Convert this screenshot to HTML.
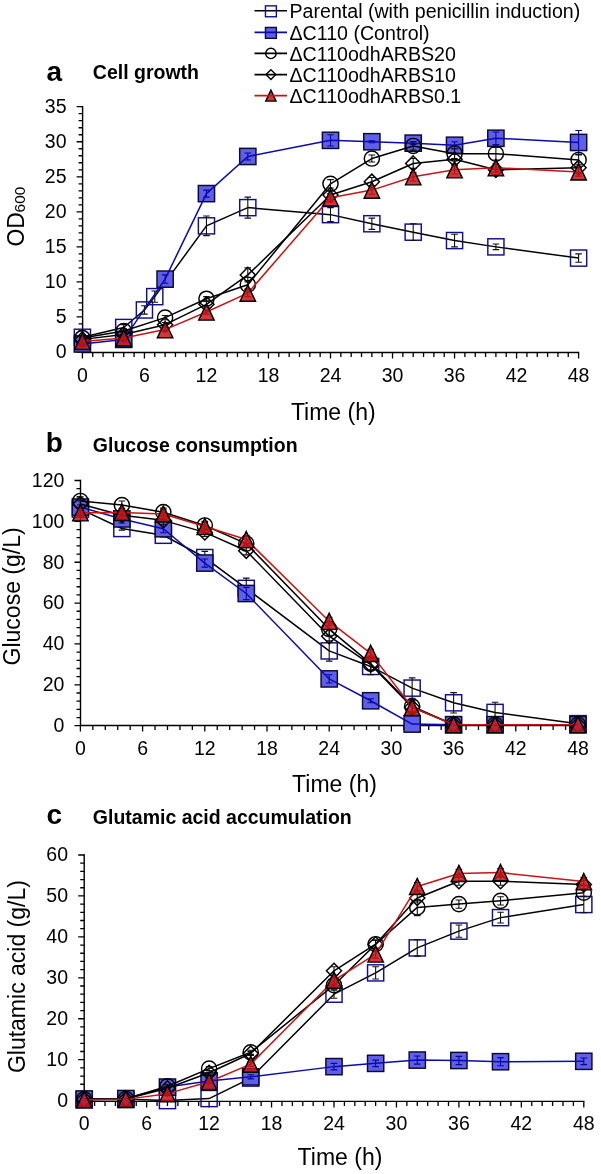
<!DOCTYPE html>
<html><head><meta charset="utf-8"><title>Figure</title>
<style>
html,body{margin:0;padding:0;background:#fff;}
body{width:601px;height:1174px;overflow:hidden;font-family:"Liberation Sans", sans-serif;}
svg{display:block;will-change:transform;}
</style></head><body>
<svg width="601" height="1174" viewBox="0 0 601 1174" font-family='"Liberation Sans", sans-serif' fill="#000">
<path d="M254.5 10.8H287" stroke="#000" stroke-width="1.6"/><rect x="265.45" y="5.85" width="10.9" height="10.9" fill="none" stroke="#10108c" stroke-width="1.4"/>
<text x="289.5" y="18" font-size="19.6" text-anchor="start" font-weight="normal" >Parental (with penicillin induction)</text>
<rect x="265.45" y="27.45" width="10.9" height="10.9" fill="#5f5feb" stroke="#0a0a30" stroke-width="1.4"/><path d="M254.5 32.4H287" stroke="#0a0ab0" stroke-width="1.6"/>
<text x="289.5" y="39.6" font-size="19.6" text-anchor="start" font-weight="normal" >ΔC110 (Control)</text>
<path d="M254.5 53.4H287" stroke="#000" stroke-width="1.6"/><circle cx="270.9" cy="53.4" r="5.2" fill="none" stroke="#000" stroke-width="1.4"/>
<text x="289.5" y="60.6" font-size="19.6" text-anchor="start" font-weight="normal" >ΔC110odhARBS20</text>
<path d="M254.5 74.6H287" stroke="#000" stroke-width="1.6"/><path d="M270.9 69.69L275.81 74.6L270.9 79.51L265.99 74.6Z" fill="none" stroke="#000" stroke-width="1.4"/>
<text x="289.5" y="81.8" font-size="19.6" text-anchor="start" font-weight="normal" >ΔC110odhARBS10</text>
<path d="M270.9 90.1L276.05 101.1L265.75 101.1Z" fill="#cd1419" fill-opacity="0.85" stroke="#000" stroke-width="1.4" stroke-linejoin="miter"/><path d="M254.5 95.6H287" stroke="#c81414" stroke-width="1.6"/>
<text x="289.5" y="102.8" font-size="19.6" text-anchor="start" font-weight="normal" >ΔC110odhARBS0.1</text>
<path d="M82.6 106V352.5H579.2" stroke="#000" stroke-width="1.4" fill="none"/>
<path d="M76.6 352H82.6M78.6 344.99H82.6M78.6 337.98H82.6M78.6 330.97H82.6M78.6 323.97H82.6M76.6 316.96H82.6M78.6 309.95H82.6M78.6 302.94H82.6M78.6 295.93H82.6M78.6 288.92H82.6M76.6 281.91H82.6M78.6 274.91H82.6M78.6 267.9H82.6M78.6 260.89H82.6M78.6 253.88H82.6M76.6 246.87H82.6M78.6 239.86H82.6M78.6 232.85H82.6M78.6 225.85H82.6M78.6 218.84H82.6M76.6 211.83H82.6M78.6 204.82H82.6M78.6 197.81H82.6M78.6 190.8H82.6M78.6 183.79H82.6M76.6 176.79H82.6M78.6 169.78H82.6M78.6 162.77H82.6M78.6 155.76H82.6M78.6 148.75H82.6M76.6 141.74H82.6M78.6 134.73H82.6M78.6 127.73H82.6M78.6 120.72H82.6M78.6 113.71H82.6M76.6 106.7H82.6M82.4 352.5V358.5M92.74 352.5V357M103.08 352.5V357M113.41 352.5V357M123.75 352.5V357M134.09 352.5V357M144.43 352.5V358.5M154.76 352.5V357M165.1 352.5V357M175.44 352.5V357M185.78 352.5V357M196.11 352.5V357M206.45 352.5V358.5M216.79 352.5V357M227.13 352.5V357M237.46 352.5V357M247.8 352.5V357M258.14 352.5V357M268.48 352.5V358.5M278.81 352.5V357M289.15 352.5V357M299.49 352.5V357M309.83 352.5V357M320.16 352.5V357M330.5 352.5V358.5M340.84 352.5V357M351.18 352.5V357M361.51 352.5V357M371.85 352.5V357M382.19 352.5V357M392.53 352.5V358.5M402.86 352.5V357M413.2 352.5V357M423.54 352.5V357M433.88 352.5V357M444.21 352.5V357M454.55 352.5V358.5M464.89 352.5V357M475.23 352.5V357M485.56 352.5V357M495.9 352.5V357M506.24 352.5V357M516.58 352.5V358.5M526.91 352.5V357M537.25 352.5V357M547.59 352.5V357M557.93 352.5V357M568.26 352.5V357M578.6 352.5V358.5" stroke="#000" stroke-width="1.3" fill="none"/>
<text x="66.5" y="358.4" font-size="19.5" text-anchor="end" font-weight="normal" >0</text>
<text x="66.5" y="323.36" font-size="19.5" text-anchor="end" font-weight="normal" >5</text>
<text x="66.5" y="288.31" font-size="19.5" text-anchor="end" font-weight="normal" >10</text>
<text x="66.5" y="253.27" font-size="19.5" text-anchor="end" font-weight="normal" >15</text>
<text x="66.5" y="218.23" font-size="19.5" text-anchor="end" font-weight="normal" >20</text>
<text x="66.5" y="183.19" font-size="19.5" text-anchor="end" font-weight="normal" >25</text>
<text x="66.5" y="148.14" font-size="19.5" text-anchor="end" font-weight="normal" >30</text>
<text x="66.5" y="113.1" font-size="19.5" text-anchor="end" font-weight="normal" >35</text>
<text x="82.4" y="382" font-size="19.5" text-anchor="middle" font-weight="normal" >0</text>
<text x="144.43" y="382" font-size="19.5" text-anchor="middle" font-weight="normal" >6</text>
<text x="206.45" y="382" font-size="19.5" text-anchor="middle" font-weight="normal" >12</text>
<text x="268.48" y="382" font-size="19.5" text-anchor="middle" font-weight="normal" >18</text>
<text x="330.5" y="382" font-size="19.5" text-anchor="middle" font-weight="normal" >24</text>
<text x="392.53" y="382" font-size="19.5" text-anchor="middle" font-weight="normal" >30</text>
<text x="454.55" y="382" font-size="19.5" text-anchor="middle" font-weight="normal" >36</text>
<text x="516.58" y="382" font-size="19.5" text-anchor="middle" font-weight="normal" >42</text>
<text x="578.6" y="382" font-size="19.5" text-anchor="middle" font-weight="normal" >48</text>
<text x="333.3" y="419.5" font-size="23" text-anchor="middle" font-weight="normal" >Time (h)</text>
<text transform="translate(24.4 246.6) rotate(-90)" font-size="23">OD<tspan font-size="15.5" dy="0.9" dx="-0.3">600</tspan></text>
<text x="46.6" y="81" font-size="28" text-anchor="start" font-weight="bold" >a</text>
<text x="92.8" y="78.7" font-size="19.5" text-anchor="start" font-weight="bold" >Cell growth</text>
<path d="M82.4 337.28L123.75 327.47L144.43 309.95L154.76 296.63L206.45 225.85L247.8 207.62L330.5 214.63L371.85 223.74L413.2 232.15L454.55 240.56L495.9 246.87L578.6 258.09" fill="none" stroke="#000" stroke-width="1.5" stroke-linejoin="round"/><rect x="74.33" y="329.21" width="16.15" height="16.15" fill="none" stroke="#10108c" stroke-width="1.45"/><rect x="115.67" y="319.4" width="16.15" height="16.15" fill="none" stroke="#10108c" stroke-width="1.45"/><rect x="136.35" y="301.87" width="16.15" height="16.15" fill="none" stroke="#10108c" stroke-width="1.45"/><rect x="146.69" y="288.56" width="16.15" height="16.15" fill="none" stroke="#10108c" stroke-width="1.45"/><rect x="198.38" y="217.77" width="16.15" height="16.15" fill="none" stroke="#10108c" stroke-width="1.45"/><rect x="239.72" y="199.55" width="16.15" height="16.15" fill="none" stroke="#10108c" stroke-width="1.45"/><rect x="322.43" y="206.56" width="16.15" height="16.15" fill="none" stroke="#10108c" stroke-width="1.45"/><rect x="363.78" y="215.67" width="16.15" height="16.15" fill="none" stroke="#10108c" stroke-width="1.45"/><rect x="405.13" y="224.08" width="16.15" height="16.15" fill="none" stroke="#10108c" stroke-width="1.45"/><rect x="446.48" y="232.49" width="16.15" height="16.15" fill="none" stroke="#10108c" stroke-width="1.45"/><rect x="487.82" y="238.8" width="16.15" height="16.15" fill="none" stroke="#10108c" stroke-width="1.45"/><rect x="570.53" y="250.01" width="16.15" height="16.15" fill="none" stroke="#10108c" stroke-width="1.45"/><path d="M82.4 335.18V339.38M79.1 335.18H85.7M79.1 339.38H85.7" stroke="#111" stroke-width="1.1" fill="none"/><path d="M123.75 324.67V330.27M120.45 324.67H127.05M120.45 330.27H127.05" stroke="#111" stroke-width="1.1" fill="none"/><path d="M144.43 305.74V314.15M141.12 305.74H147.73M141.12 314.15H147.73" stroke="#111" stroke-width="1.1" fill="none"/><path d="M154.76 291.03V302.24M151.46 291.03H158.06M151.46 302.24H158.06" stroke="#111" stroke-width="1.1" fill="none"/><path d="M206.45 216.03V235.66M203.15 216.03H209.75M203.15 235.66H209.75" stroke="#111" stroke-width="1.1" fill="none"/><path d="M247.8 197.11V218.14M244.5 197.11H251.1M244.5 218.14H251.1" stroke="#111" stroke-width="1.1" fill="none"/><path d="M330.5 207.62V221.64M327.2 207.62H333.8M327.2 221.64H333.8" stroke="#111" stroke-width="1.1" fill="none"/><path d="M371.85 218.14V229.35M368.55 218.14H375.15M368.55 229.35H375.15" stroke="#111" stroke-width="1.1" fill="none"/><path d="M413.2 223.74V240.56M409.9 223.74H416.5M409.9 240.56H416.5" stroke="#111" stroke-width="1.1" fill="none"/><path d="M454.55 234.26V246.87M451.25 234.26H457.85M451.25 246.87H457.85" stroke="#111" stroke-width="1.1" fill="none"/><path d="M495.9 244.07V249.67M492.6 244.07H499.2M492.6 249.67H499.2" stroke="#111" stroke-width="1.1" fill="none"/><path d="M578.6 253.88V262.29M575.3 253.88H581.9M575.3 262.29H581.9" stroke="#111" stroke-width="1.1" fill="none"/>
<rect x="74.28" y="335.82" width="16.25" height="16.25" fill="#5f5feb" stroke="#0a0a30" stroke-width="1.45"/><rect x="115.62" y="331.26" width="16.25" height="16.25" fill="#5f5feb" stroke="#0a0a30" stroke-width="1.45"/><rect x="156.98" y="270.99" width="16.25" height="16.25" fill="#5f5feb" stroke="#0a0a30" stroke-width="1.45"/><rect x="198.33" y="185.48" width="16.25" height="16.25" fill="#5f5feb" stroke="#0a0a30" stroke-width="1.45"/><rect x="239.68" y="148.34" width="16.25" height="16.25" fill="#5f5feb" stroke="#0a0a30" stroke-width="1.45"/><rect x="322.38" y="132.22" width="16.25" height="16.25" fill="#5f5feb" stroke="#0a0a30" stroke-width="1.45"/><rect x="363.73" y="133.62" width="16.25" height="16.25" fill="#5f5feb" stroke="#0a0a30" stroke-width="1.45"/><rect x="405.08" y="135.02" width="16.25" height="16.25" fill="#5f5feb" stroke="#0a0a30" stroke-width="1.45"/><rect x="446.43" y="137.12" width="16.25" height="16.25" fill="#5f5feb" stroke="#0a0a30" stroke-width="1.45"/><rect x="487.77" y="130.11" width="16.25" height="16.25" fill="#5f5feb" stroke="#0a0a30" stroke-width="1.45"/><rect x="570.48" y="134.32" width="16.25" height="16.25" fill="#5f5feb" stroke="#0a0a30" stroke-width="1.45"/><path d="M82.4 341.84V346.04M79.1 341.84H85.7M79.1 346.04H85.7" stroke="#0a0a8c" stroke-width="1.1" fill="none"/><path d="M123.75 337.28V341.49M120.45 337.28H127.05M120.45 341.49H127.05" stroke="#0a0a8c" stroke-width="1.1" fill="none"/><path d="M165.1 274.91V283.32M161.8 274.91H168.4M161.8 283.32H168.4" stroke="#0a0a8c" stroke-width="1.1" fill="none"/><path d="M206.45 190.1V197.11M203.15 190.1H209.75M203.15 197.11H209.75" stroke="#0a0a8c" stroke-width="1.1" fill="none"/><path d="M247.8 152.96V159.97M244.5 152.96H251.1M244.5 159.97H251.1" stroke="#0a0a8c" stroke-width="1.1" fill="none"/><path d="M330.5 134.73V145.95M327.2 134.73H333.8M327.2 145.95H333.8" stroke="#0a0a8c" stroke-width="1.1" fill="none"/><path d="M371.85 140.69V142.79M368.55 140.69H375.15M368.55 142.79H375.15" stroke="#0a0a8c" stroke-width="1.1" fill="none"/><path d="M413.2 141.74V144.55M409.9 141.74H416.5M409.9 144.55H416.5" stroke="#0a0a8c" stroke-width="1.1" fill="none"/><path d="M454.55 141.74V148.75M451.25 141.74H457.85M451.25 148.75H457.85" stroke="#0a0a8c" stroke-width="1.1" fill="none"/><path d="M495.9 131.93V144.55M492.6 131.93H499.2M492.6 144.55H499.2" stroke="#0a0a8c" stroke-width="1.1" fill="none"/><path d="M578.6 130.53V154.36M575.3 130.53H581.9M575.3 154.36H581.9" stroke="#0a0a8c" stroke-width="1.1" fill="none"/><path d="M82.4 343.94L123.75 339.38L165.1 279.11L206.45 193.61L247.8 156.46L330.5 140.34L371.85 141.74L413.2 143.14L454.55 145.25L495.9 138.24L578.6 142.44" fill="none" stroke="#0a0ab0" stroke-width="1.5" stroke-linejoin="round"/>
<path d="M82.4 337.98L123.75 330.97L165.1 317.66L206.45 298.73L247.8 284.72L330.5 183.79L371.85 158.56L413.2 145.95L454.55 153.66L495.9 153.66L578.6 159.97" fill="none" stroke="#000" stroke-width="1.5" stroke-linejoin="round"/><circle cx="82.4" cy="337.98" r="7.58" fill="none" stroke="#000" stroke-width="1.45"/><circle cx="123.75" cy="330.97" r="7.58" fill="none" stroke="#000" stroke-width="1.45"/><circle cx="165.1" cy="317.66" r="7.58" fill="none" stroke="#000" stroke-width="1.45"/><circle cx="206.45" cy="298.73" r="7.58" fill="none" stroke="#000" stroke-width="1.45"/><circle cx="247.8" cy="284.72" r="7.58" fill="none" stroke="#000" stroke-width="1.45"/><circle cx="330.5" cy="183.79" r="7.58" fill="none" stroke="#000" stroke-width="1.45"/><circle cx="371.85" cy="158.56" r="7.58" fill="none" stroke="#000" stroke-width="1.45"/><circle cx="413.2" cy="145.95" r="7.58" fill="none" stroke="#000" stroke-width="1.45"/><circle cx="454.55" cy="153.66" r="7.58" fill="none" stroke="#000" stroke-width="1.45"/><circle cx="495.9" cy="153.66" r="7.58" fill="none" stroke="#000" stroke-width="1.45"/><circle cx="578.6" cy="159.97" r="7.58" fill="none" stroke="#000" stroke-width="1.45"/><path d="M82.4 335.88V340.09M79.1 335.88H85.7M79.1 340.09H85.7" stroke="#111" stroke-width="1.1" fill="none"/><path d="M123.75 328.87V333.08M120.45 328.87H127.05M120.45 333.08H127.05" stroke="#111" stroke-width="1.1" fill="none"/><path d="M165.1 315.56V319.76M161.8 315.56H168.4M161.8 319.76H168.4" stroke="#111" stroke-width="1.1" fill="none"/><path d="M206.45 296.63V300.84M203.15 296.63H209.75M203.15 300.84H209.75" stroke="#111" stroke-width="1.1" fill="none"/><path d="M247.8 280.51V288.92M244.5 280.51H251.1M244.5 288.92H251.1" stroke="#111" stroke-width="1.1" fill="none"/><path d="M330.5 179.59V188M327.2 179.59H333.8M327.2 188H333.8" stroke="#111" stroke-width="1.1" fill="none"/><path d="M371.85 155.06V162.07M368.55 155.06H375.15M368.55 162.07H375.15" stroke="#111" stroke-width="1.1" fill="none"/><path d="M413.2 141.74V150.15M409.9 141.74H416.5M409.9 150.15H416.5" stroke="#111" stroke-width="1.1" fill="none"/><path d="M454.55 148.75V158.56M451.25 148.75H457.85M451.25 158.56H457.85" stroke="#111" stroke-width="1.1" fill="none"/><path d="M495.9 147.35V159.97M492.6 147.35H499.2M492.6 159.97H499.2" stroke="#111" stroke-width="1.1" fill="none"/><path d="M578.6 155.06V164.87M575.3 155.06H581.9M575.3 164.87H581.9" stroke="#111" stroke-width="1.1" fill="none"/>
<path d="M82.4 339.38L123.75 334.48L165.1 324.67L206.45 304.34L247.8 274.91L330.5 195.01L371.85 181.69L413.2 163.47L454.55 159.26L495.9 169.78L578.6 167.67" fill="none" stroke="#000" stroke-width="1.5" stroke-linejoin="round"/><path d="M82.4 331.81L89.97 339.38L82.4 346.96L74.83 339.38Z" fill="none" stroke="#000" stroke-width="1.45"/><path d="M123.75 326.9L131.32 334.48L123.75 342.05L116.18 334.48Z" fill="none" stroke="#000" stroke-width="1.45"/><path d="M165.1 317.09L172.67 324.67L165.1 332.24L157.53 324.67Z" fill="none" stroke="#000" stroke-width="1.45"/><path d="M206.45 296.77L214.02 304.34L206.45 311.92L198.88 304.34Z" fill="none" stroke="#000" stroke-width="1.45"/><path d="M247.8 267.33L255.37 274.91L247.8 282.48L240.23 274.91Z" fill="none" stroke="#000" stroke-width="1.45"/><path d="M330.5 187.43L338.07 195.01L330.5 202.58L322.93 195.01Z" fill="none" stroke="#000" stroke-width="1.45"/><path d="M371.85 174.12L379.42 181.69L371.85 189.27L364.28 181.69Z" fill="none" stroke="#000" stroke-width="1.45"/><path d="M413.2 155.89L420.77 163.47L413.2 171.04L405.63 163.47Z" fill="none" stroke="#000" stroke-width="1.45"/><path d="M454.55 151.69L462.12 159.26L454.55 166.84L446.98 159.26Z" fill="none" stroke="#000" stroke-width="1.45"/><path d="M495.9 162.2L503.47 169.78L495.9 177.35L488.33 169.78Z" fill="none" stroke="#000" stroke-width="1.45"/><path d="M578.6 160.1L586.17 167.67L578.6 175.25L571.03 167.67Z" fill="none" stroke="#000" stroke-width="1.45"/><path d="M82.4 337.28V341.49M79.1 337.28H85.7M79.1 341.49H85.7" stroke="#111" stroke-width="1.1" fill="none"/><path d="M123.75 332.38V336.58M120.45 332.38H127.05M120.45 336.58H127.05" stroke="#111" stroke-width="1.1" fill="none"/><path d="M165.1 322.56V326.77M161.8 322.56H168.4M161.8 326.77H168.4" stroke="#111" stroke-width="1.1" fill="none"/><path d="M206.45 301.54V307.15M203.15 301.54H209.75M203.15 307.15H209.75" stroke="#111" stroke-width="1.1" fill="none"/><path d="M247.8 267.9V281.91M244.5 267.9H251.1M244.5 281.91H251.1" stroke="#111" stroke-width="1.1" fill="none"/><path d="M330.5 190.8V199.21M327.2 190.8H333.8M327.2 199.21H333.8" stroke="#111" stroke-width="1.1" fill="none"/><path d="M371.85 177.49V185.9M368.55 177.49H375.15M368.55 185.9H375.15" stroke="#111" stroke-width="1.1" fill="none"/><path d="M413.2 158.56V168.38M409.9 158.56H416.5M409.9 168.38H416.5" stroke="#111" stroke-width="1.1" fill="none"/><path d="M454.55 154.36V164.17M451.25 154.36H457.85M451.25 164.17H457.85" stroke="#111" stroke-width="1.1" fill="none"/><path d="M495.9 164.87V174.68M492.6 164.87H499.2M492.6 174.68H499.2" stroke="#111" stroke-width="1.1" fill="none"/><path d="M578.6 162.77V172.58M575.3 162.77H581.9M575.3 172.58H581.9" stroke="#111" stroke-width="1.1" fill="none"/>
<path d="M82.4 341.49L123.75 337.98L165.1 329.57L206.45 312.05L247.8 293.13L330.5 197.81L371.85 190.1L413.2 176.79L454.55 169.78L495.9 167.67L578.6 171.88" fill="none" stroke="#c81414" stroke-width="1.5" stroke-linejoin="round"/><path d="M82.4 339.38V343.59M79.1 339.38H85.7M79.1 343.59H85.7" stroke="#111" stroke-width="1.1" fill="none"/><path d="M123.75 335.88V340.09M120.45 335.88H127.05M120.45 340.09H127.05" stroke="#111" stroke-width="1.1" fill="none"/><path d="M165.1 327.47V331.68M161.8 327.47H168.4M161.8 331.68H168.4" stroke="#111" stroke-width="1.1" fill="none"/><path d="M206.45 309.95V314.15M203.15 309.95H209.75M203.15 314.15H209.75" stroke="#111" stroke-width="1.1" fill="none"/><path d="M247.8 289.62V296.63M244.5 289.62H251.1M244.5 296.63H251.1" stroke="#111" stroke-width="1.1" fill="none"/><path d="M330.5 193.61V202.02M327.2 193.61H333.8M327.2 202.02H333.8" stroke="#111" stroke-width="1.1" fill="none"/><path d="M371.85 185.9V194.31M368.55 185.9H375.15M368.55 194.31H375.15" stroke="#111" stroke-width="1.1" fill="none"/><path d="M413.2 172.58V180.99M409.9 172.58H416.5M409.9 180.99H416.5" stroke="#111" stroke-width="1.1" fill="none"/><path d="M454.55 165.57V173.98M451.25 165.57H457.85M451.25 173.98H457.85" stroke="#111" stroke-width="1.1" fill="none"/><path d="M495.9 163.47V171.88M492.6 163.47H499.2M492.6 171.88H499.2" stroke="#111" stroke-width="1.1" fill="none"/><path d="M578.6 167.67V176.08M575.3 167.67H581.9M575.3 176.08H581.9" stroke="#111" stroke-width="1.1" fill="none"/><path d="M82.4 333.41L90.11 349.56L74.69 349.56Z" fill="#cd1419" fill-opacity="0.85" stroke="#000" stroke-width="1.45" stroke-linejoin="miter"/><path d="M123.75 329.91L131.46 346.06L116.04 346.06Z" fill="#cd1419" fill-opacity="0.85" stroke="#000" stroke-width="1.45" stroke-linejoin="miter"/><path d="M165.1 321.5L172.81 337.65L157.39 337.65Z" fill="#cd1419" fill-opacity="0.85" stroke="#000" stroke-width="1.45" stroke-linejoin="miter"/><path d="M206.45 303.98L214.16 320.13L198.74 320.13Z" fill="#cd1419" fill-opacity="0.85" stroke="#000" stroke-width="1.45" stroke-linejoin="miter"/><path d="M247.8 285.05L255.51 301.2L240.09 301.2Z" fill="#cd1419" fill-opacity="0.85" stroke="#000" stroke-width="1.45" stroke-linejoin="miter"/><path d="M330.5 189.74L338.21 205.89L322.79 205.89Z" fill="#cd1419" fill-opacity="0.85" stroke="#000" stroke-width="1.45" stroke-linejoin="miter"/><path d="M371.85 182.03L379.56 198.18L364.14 198.18Z" fill="#cd1419" fill-opacity="0.85" stroke="#000" stroke-width="1.45" stroke-linejoin="miter"/><path d="M413.2 168.71L420.91 184.86L405.49 184.86Z" fill="#cd1419" fill-opacity="0.85" stroke="#000" stroke-width="1.45" stroke-linejoin="miter"/><path d="M454.55 161.7L462.26 177.85L446.84 177.85Z" fill="#cd1419" fill-opacity="0.85" stroke="#000" stroke-width="1.45" stroke-linejoin="miter"/><path d="M495.9 159.6L503.61 175.75L488.19 175.75Z" fill="#cd1419" fill-opacity="0.85" stroke="#000" stroke-width="1.45" stroke-linejoin="miter"/><path d="M578.6 163.8L586.31 179.95L570.89 179.95Z" fill="#cd1419" fill-opacity="0.85" stroke="#000" stroke-width="1.45" stroke-linejoin="miter"/>
<path d="M80.5 479.8V725.5H578.6" stroke="#000" stroke-width="1.4" fill="none"/>
<path d="M74.5 725.7H80.5M76.5 717.53H80.5M76.5 709.35H80.5M76.5 701.18H80.5M76.5 693.01H80.5M74.5 684.83H80.5M76.5 676.66H80.5M76.5 668.49H80.5M76.5 660.31H80.5M76.5 652.14H80.5M74.5 643.97H80.5M76.5 635.79H80.5M76.5 627.62H80.5M76.5 619.45H80.5M76.5 611.27H80.5M74.5 603.1H80.5M76.5 594.93H80.5M76.5 586.75H80.5M76.5 578.58H80.5M76.5 570.41H80.5M74.5 562.23H80.5M76.5 554.06H80.5M76.5 545.89H80.5M76.5 537.71H80.5M76.5 529.54H80.5M74.5 521.37H80.5M76.5 513.19H80.5M76.5 505.02H80.5M76.5 496.85H80.5M76.5 488.67H80.5M74.5 480.5H80.5M80.4 725.5V731.5M92.84 725.5V730M105.28 725.5V730M117.72 725.5V730M130.16 725.5V730M142.6 725.5V731.5M155.04 725.5V730M167.48 725.5V730M179.92 725.5V730M192.36 725.5V730M204.8 725.5V731.5M217.24 725.5V730M229.68 725.5V730M242.12 725.5V730M254.56 725.5V730M267 725.5V731.5M279.44 725.5V730M291.88 725.5V730M304.32 725.5V730M316.76 725.5V730M329.2 725.5V731.5M341.64 725.5V730M354.08 725.5V730M366.52 725.5V730M378.96 725.5V730M391.4 725.5V731.5M403.84 725.5V730M416.28 725.5V730M428.72 725.5V730M441.16 725.5V730M453.6 725.5V731.5M466.04 725.5V730M478.48 725.5V730M490.92 725.5V730M503.36 725.5V730M515.8 725.5V731.5M528.24 725.5V730M540.68 725.5V730M553.12 725.5V730M565.56 725.5V730M578 725.5V731.5" stroke="#000" stroke-width="1.3" fill="none"/>
<text x="64.4" y="732" font-size="19.5" text-anchor="end" font-weight="normal" >0</text>
<text x="64.4" y="691.13" font-size="19.5" text-anchor="end" font-weight="normal" >20</text>
<text x="64.4" y="650.27" font-size="19.5" text-anchor="end" font-weight="normal" >40</text>
<text x="64.4" y="609.4" font-size="19.5" text-anchor="end" font-weight="normal" >60</text>
<text x="64.4" y="568.53" font-size="19.5" text-anchor="end" font-weight="normal" >80</text>
<text x="64.4" y="527.67" font-size="19.5" text-anchor="end" font-weight="normal" >100</text>
<text x="64.4" y="486.8" font-size="19.5" text-anchor="end" font-weight="normal" >120</text>
<text x="80.4" y="755" font-size="19.5" text-anchor="middle" font-weight="normal" >0</text>
<text x="142.6" y="755" font-size="19.5" text-anchor="middle" font-weight="normal" >6</text>
<text x="204.8" y="755" font-size="19.5" text-anchor="middle" font-weight="normal" >12</text>
<text x="267" y="755" font-size="19.5" text-anchor="middle" font-weight="normal" >18</text>
<text x="329.2" y="755" font-size="19.5" text-anchor="middle" font-weight="normal" >24</text>
<text x="391.4" y="755" font-size="19.5" text-anchor="middle" font-weight="normal" >30</text>
<text x="453.6" y="755" font-size="19.5" text-anchor="middle" font-weight="normal" >36</text>
<text x="515.8" y="755" font-size="19.5" text-anchor="middle" font-weight="normal" >42</text>
<text x="578" y="755" font-size="19.5" text-anchor="middle" font-weight="normal" >48</text>
<text x="334.5" y="792.1" font-size="23" text-anchor="middle" font-weight="normal" >Time (h)</text>
<text transform="translate(19.5 596.4) rotate(-90)" font-size="23" text-anchor="middle">Glucose (g/L)</text>
<text x="45.8" y="452.3" font-size="28" text-anchor="start" font-weight="bold" >b</text>
<text x="92.8" y="452.3" font-size="19.5" text-anchor="start" font-weight="bold" >Glucose consumption</text>
<path d="M80.4 509.11L121.87 528.52L163.33 535.26L204.8 557.53L246.27 588.39L329.2 650.91L370.67 666.44L412.13 688.1L453.6 702.81L495.07 712.42L578 723.66" fill="none" stroke="#000" stroke-width="1.5" stroke-linejoin="round"/><rect x="72.33" y="501.03" width="16.15" height="16.15" fill="none" stroke="#10108c" stroke-width="1.45"/><rect x="113.79" y="520.44" width="16.15" height="16.15" fill="none" stroke="#10108c" stroke-width="1.45"/><rect x="155.26" y="527.19" width="16.15" height="16.15" fill="none" stroke="#10108c" stroke-width="1.45"/><rect x="196.72" y="549.46" width="16.15" height="16.15" fill="none" stroke="#10108c" stroke-width="1.45"/><rect x="238.19" y="580.31" width="16.15" height="16.15" fill="none" stroke="#10108c" stroke-width="1.45"/><rect x="321.13" y="642.84" width="16.15" height="16.15" fill="none" stroke="#10108c" stroke-width="1.45"/><rect x="362.59" y="658.37" width="16.15" height="16.15" fill="none" stroke="#10108c" stroke-width="1.45"/><rect x="404.06" y="680.03" width="16.15" height="16.15" fill="none" stroke="#10108c" stroke-width="1.45"/><rect x="445.53" y="694.74" width="16.15" height="16.15" fill="none" stroke="#10108c" stroke-width="1.45"/><rect x="486.99" y="704.34" width="16.15" height="16.15" fill="none" stroke="#10108c" stroke-width="1.45"/><rect x="569.93" y="715.58" width="16.15" height="16.15" fill="none" stroke="#10108c" stroke-width="1.45"/><path d="M80.4 502.98V515.24M77.1 502.98H83.7M77.1 515.24H83.7" stroke="#111" stroke-width="1.1" fill="none"/><path d="M121.87 526.88V530.15M118.57 526.88H125.17M118.57 530.15H125.17" stroke="#111" stroke-width="1.1" fill="none"/><path d="M163.33 533.63V536.9M160.03 533.63H166.63M160.03 536.9H166.63" stroke="#111" stroke-width="1.1" fill="none"/><path d="M204.8 551.4V563.66M201.5 551.4H208.1M201.5 563.66H208.1" stroke="#111" stroke-width="1.1" fill="none"/><path d="M246.27 578.17V598.6M242.97 578.17H249.57M242.97 598.6H249.57" stroke="#111" stroke-width="1.1" fill="none"/><path d="M329.2 640.7V661.13M325.9 640.7H332.5M325.9 661.13H332.5" stroke="#111" stroke-width="1.1" fill="none"/><path d="M370.67 658.27V674.62M367.37 658.27H373.97M367.37 674.62H373.97" stroke="#111" stroke-width="1.1" fill="none"/><path d="M412.13 677.89V698.32M408.83 677.89H415.43M408.83 698.32H415.43" stroke="#111" stroke-width="1.1" fill="none"/><path d="M453.6 692.6V713.03M450.3 692.6H456.9M450.3 713.03H456.9" stroke="#111" stroke-width="1.1" fill="none"/><path d="M495.07 702.2V722.63M491.77 702.2H498.37M491.77 722.63H498.37" stroke="#111" stroke-width="1.1" fill="none"/>
<rect x="72.28" y="498.94" width="16.25" height="16.25" fill="#5f5feb" stroke="#0a0a30" stroke-width="1.45"/><rect x="113.74" y="510.79" width="16.25" height="16.25" fill="#5f5feb" stroke="#0a0a30" stroke-width="1.45"/><rect x="155.21" y="520.6" width="16.25" height="16.25" fill="#5f5feb" stroke="#0a0a30" stroke-width="1.45"/><rect x="196.68" y="554.93" width="16.25" height="16.25" fill="#5f5feb" stroke="#0a0a30" stroke-width="1.45"/><rect x="238.14" y="585.37" width="16.25" height="16.25" fill="#5f5feb" stroke="#0a0a30" stroke-width="1.45"/><rect x="321.08" y="670.78" width="16.25" height="16.25" fill="#5f5feb" stroke="#0a0a30" stroke-width="1.45"/><rect x="362.54" y="692.65" width="16.25" height="16.25" fill="#5f5feb" stroke="#0a0a30" stroke-width="1.45"/><rect x="404.01" y="715.94" width="16.25" height="16.25" fill="#5f5feb" stroke="#0a0a30" stroke-width="1.45"/><rect x="445.48" y="716.55" width="16.25" height="16.25" fill="#5f5feb" stroke="#0a0a30" stroke-width="1.45"/><rect x="486.94" y="716.55" width="16.25" height="16.25" fill="#5f5feb" stroke="#0a0a30" stroke-width="1.45"/><rect x="569.88" y="716.55" width="16.25" height="16.25" fill="#5f5feb" stroke="#0a0a30" stroke-width="1.45"/><path d="M80.4 500.93V513.19M77.1 500.93H83.7M77.1 513.19H83.7" stroke="#0a0a8c" stroke-width="1.1" fill="none"/><path d="M121.87 514.83V523M118.57 514.83H125.17M118.57 523H125.17" stroke="#0a0a8c" stroke-width="1.1" fill="none"/><path d="M163.33 524.64V532.81M160.03 524.64H166.63M160.03 532.81H166.63" stroke="#0a0a8c" stroke-width="1.1" fill="none"/><path d="M204.8 558.96V567.14M201.5 558.96H208.1M201.5 567.14H208.1" stroke="#0a0a8c" stroke-width="1.1" fill="none"/><path d="M246.27 587.37V599.63M242.97 587.37H249.57M242.97 599.63H249.57" stroke="#0a0a8c" stroke-width="1.1" fill="none"/><path d="M329.2 674.82V682.99M325.9 674.82H332.5M325.9 682.99H332.5" stroke="#0a0a8c" stroke-width="1.1" fill="none"/><path d="M370.67 698.73V702.81M367.37 698.73H373.97M367.37 702.81H373.97" stroke="#0a0a8c" stroke-width="1.1" fill="none"/><path d="M80.4 507.06L121.87 518.91L163.33 528.72L204.8 563.05L246.27 593.5L329.2 678.91L370.67 700.77L412.13 724.07L453.6 724.68L495.07 724.68L578 724.68" fill="none" stroke="#0a0ab0" stroke-width="1.5" stroke-linejoin="round"/>
<path d="M80.4 500.93L121.87 505.02L163.33 512.17L204.8 525.45L246.27 543.64L329.2 629.05L370.67 663.58L412.13 706.29L453.6 724.68L495.07 724.68L578 724.68" fill="none" stroke="#000" stroke-width="1.5" stroke-linejoin="round"/><circle cx="80.4" cy="500.93" r="7.58" fill="none" stroke="#000" stroke-width="1.45"/><circle cx="121.87" cy="505.02" r="7.58" fill="none" stroke="#000" stroke-width="1.45"/><circle cx="163.33" cy="512.17" r="7.58" fill="none" stroke="#000" stroke-width="1.45"/><circle cx="204.8" cy="525.45" r="7.58" fill="none" stroke="#000" stroke-width="1.45"/><circle cx="246.27" cy="543.64" r="7.58" fill="none" stroke="#000" stroke-width="1.45"/><circle cx="329.2" cy="629.05" r="7.58" fill="none" stroke="#000" stroke-width="1.45"/><circle cx="370.67" cy="663.58" r="7.58" fill="none" stroke="#000" stroke-width="1.45"/><circle cx="412.13" cy="706.29" r="7.58" fill="none" stroke="#000" stroke-width="1.45"/><circle cx="453.6" cy="724.68" r="7.58" fill="none" stroke="#000" stroke-width="1.45"/><circle cx="495.07" cy="724.68" r="7.58" fill="none" stroke="#000" stroke-width="1.45"/><circle cx="578" cy="724.68" r="7.58" fill="none" stroke="#000" stroke-width="1.45"/><path d="M80.4 496.85V505.02M77.1 496.85H83.7M77.1 505.02H83.7" stroke="#111" stroke-width="1.1" fill="none"/><path d="M121.87 500.93V509.11M118.57 500.93H125.17M118.57 509.11H125.17" stroke="#111" stroke-width="1.1" fill="none"/><path d="M163.33 508.08V516.26M160.03 508.08H166.63M160.03 516.26H166.63" stroke="#111" stroke-width="1.1" fill="none"/><path d="M204.8 521.37V529.54M201.5 521.37H208.1M201.5 529.54H208.1" stroke="#111" stroke-width="1.1" fill="none"/><path d="M246.27 539.55V547.73M242.97 539.55H249.57M242.97 547.73H249.57" stroke="#111" stroke-width="1.1" fill="none"/><path d="M329.2 622.92V635.18M325.9 622.92H332.5M325.9 635.18H332.5" stroke="#111" stroke-width="1.1" fill="none"/><path d="M370.67 657.45V669.71M367.37 657.45H373.97M367.37 669.71H373.97" stroke="#111" stroke-width="1.1" fill="none"/><path d="M412.13 700.16V712.42M408.83 700.16H415.43M408.83 712.42H415.43" stroke="#111" stroke-width="1.1" fill="none"/>
<path d="M80.4 504L121.87 515.24L163.33 520.35L204.8 532.4L246.27 550.79L329.2 636.2L370.67 664.6L412.13 707.31L453.6 724.68L495.07 724.68L578 724.68" fill="none" stroke="#000" stroke-width="1.5" stroke-linejoin="round"/><path d="M80.4 496.42L87.97 504L80.4 511.57L72.83 504Z" fill="none" stroke="#000" stroke-width="1.45"/><path d="M121.87 507.66L129.44 515.24L121.87 522.81L114.29 515.24Z" fill="none" stroke="#000" stroke-width="1.45"/><path d="M163.33 512.77L170.91 520.35L163.33 527.92L155.76 520.35Z" fill="none" stroke="#000" stroke-width="1.45"/><path d="M204.8 524.83L212.37 532.4L204.8 539.98L197.23 532.4Z" fill="none" stroke="#000" stroke-width="1.45"/><path d="M246.27 543.22L253.84 550.79L246.27 558.37L238.69 550.79Z" fill="none" stroke="#000" stroke-width="1.45"/><path d="M329.2 628.63L336.77 636.2L329.2 643.78L321.63 636.2Z" fill="none" stroke="#000" stroke-width="1.45"/><path d="M370.67 657.03L378.24 664.6L370.67 672.18L363.09 664.6Z" fill="none" stroke="#000" stroke-width="1.45"/><path d="M412.13 699.74L419.71 707.31L412.13 714.88L404.56 707.31Z" fill="none" stroke="#000" stroke-width="1.45"/><path d="M453.6 717.1L461.17 724.68L453.6 732.25L446.03 724.68Z" fill="none" stroke="#000" stroke-width="1.45"/><path d="M495.07 717.1L502.64 724.68L495.07 732.25L487.49 724.68Z" fill="none" stroke="#000" stroke-width="1.45"/><path d="M578 717.1L585.57 724.68L578 732.25L570.43 724.68Z" fill="none" stroke="#000" stroke-width="1.45"/><path d="M80.4 499.91V508.08M77.1 499.91H83.7M77.1 508.08H83.7" stroke="#111" stroke-width="1.1" fill="none"/><path d="M121.87 511.15V519.32M118.57 511.15H125.17M118.57 519.32H125.17" stroke="#111" stroke-width="1.1" fill="none"/><path d="M163.33 516.26V524.43M160.03 516.26H166.63M160.03 524.43H166.63" stroke="#111" stroke-width="1.1" fill="none"/><path d="M204.8 528.31V536.49M201.5 528.31H208.1M201.5 536.49H208.1" stroke="#111" stroke-width="1.1" fill="none"/><path d="M246.27 546.7V554.88M242.97 546.7H249.57M242.97 554.88H249.57" stroke="#111" stroke-width="1.1" fill="none"/><path d="M329.2 630.07V642.33M325.9 630.07H332.5M325.9 642.33H332.5" stroke="#111" stroke-width="1.1" fill="none"/><path d="M370.67 658.47V670.73M367.37 658.47H373.97M367.37 670.73H373.97" stroke="#111" stroke-width="1.1" fill="none"/><path d="M412.13 701.18V713.44M408.83 701.18H415.43M408.83 713.44H415.43" stroke="#111" stroke-width="1.1" fill="none"/>
<path d="M80.4 512.78L121.87 512.38L163.33 514.01L204.8 526.48L246.27 539.55L329.2 621.29L370.67 653.37L412.13 707.31L453.6 724.68L495.07 724.68L578 724.68" fill="none" stroke="#c81414" stroke-width="1.5" stroke-linejoin="round"/><path d="M80.4 508.7V516.87M77.1 508.7H83.7M77.1 516.87H83.7" stroke="#111" stroke-width="1.1" fill="none"/><path d="M121.87 508.29V516.46M118.57 508.29H125.17M118.57 516.46H125.17" stroke="#111" stroke-width="1.1" fill="none"/><path d="M163.33 509.92V518.1M160.03 509.92H166.63M160.03 518.1H166.63" stroke="#111" stroke-width="1.1" fill="none"/><path d="M204.8 522.39V530.56M201.5 522.39H208.1M201.5 530.56H208.1" stroke="#111" stroke-width="1.1" fill="none"/><path d="M246.27 535.47V543.64M242.97 535.47H249.57M242.97 543.64H249.57" stroke="#111" stroke-width="1.1" fill="none"/><path d="M329.2 617.2V625.37M325.9 617.2H332.5M325.9 625.37H332.5" stroke="#111" stroke-width="1.1" fill="none"/><path d="M370.67 649.28V657.45M367.37 649.28H373.97M367.37 657.45H373.97" stroke="#111" stroke-width="1.1" fill="none"/><path d="M412.13 703.22V711.4M408.83 703.22H415.43M408.83 711.4H415.43" stroke="#111" stroke-width="1.1" fill="none"/><path d="M80.4 504.71L88.11 520.86L72.69 520.86Z" fill="#cd1419" fill-opacity="0.85" stroke="#000" stroke-width="1.45" stroke-linejoin="miter"/><path d="M121.87 504.3L129.58 520.45L114.15 520.45Z" fill="#cd1419" fill-opacity="0.85" stroke="#000" stroke-width="1.45" stroke-linejoin="miter"/><path d="M163.33 505.94L171.05 522.09L155.62 522.09Z" fill="#cd1419" fill-opacity="0.85" stroke="#000" stroke-width="1.45" stroke-linejoin="miter"/><path d="M204.8 518.4L212.51 534.55L197.09 534.55Z" fill="#cd1419" fill-opacity="0.85" stroke="#000" stroke-width="1.45" stroke-linejoin="miter"/><path d="M246.27 531.48L253.98 547.63L238.55 547.63Z" fill="#cd1419" fill-opacity="0.85" stroke="#000" stroke-width="1.45" stroke-linejoin="miter"/><path d="M329.2 613.21L336.91 629.36L321.49 629.36Z" fill="#cd1419" fill-opacity="0.85" stroke="#000" stroke-width="1.45" stroke-linejoin="miter"/><path d="M370.67 645.29L378.38 661.44L362.95 661.44Z" fill="#cd1419" fill-opacity="0.85" stroke="#000" stroke-width="1.45" stroke-linejoin="miter"/><path d="M412.13 699.24L419.85 715.38L404.42 715.38Z" fill="#cd1419" fill-opacity="0.85" stroke="#000" stroke-width="1.45" stroke-linejoin="miter"/><path d="M453.6 716.6L461.31 732.75L445.89 732.75Z" fill="#cd1419" fill-opacity="0.85" stroke="#000" stroke-width="1.45" stroke-linejoin="miter"/><path d="M495.07 716.6L502.78 732.75L487.35 732.75Z" fill="#cd1419" fill-opacity="0.85" stroke="#000" stroke-width="1.45" stroke-linejoin="miter"/><path d="M578 716.6L585.71 732.75L570.29 732.75Z" fill="#cd1419" fill-opacity="0.85" stroke="#000" stroke-width="1.45" stroke-linejoin="miter"/>
<path d="M84.2 854.3V1101.4H584.4" stroke="#000" stroke-width="1.4" fill="none"/>
<path d="M78.2 1100.6H84.2M80.2 1092.41H84.2M80.2 1084.23H84.2M80.2 1076.04H84.2M80.2 1067.85H84.2M78.2 1059.67H84.2M80.2 1051.48H84.2M80.2 1043.29H84.2M80.2 1035.11H84.2M80.2 1026.92H84.2M78.2 1018.73H84.2M80.2 1010.55H84.2M80.2 1002.36H84.2M80.2 994.17H84.2M80.2 985.99H84.2M78.2 977.8H84.2M80.2 969.61H84.2M80.2 961.43H84.2M80.2 953.24H84.2M80.2 945.05H84.2M78.2 936.87H84.2M80.2 928.68H84.2M80.2 920.49H84.2M80.2 912.31H84.2M80.2 904.12H84.2M78.2 895.93H84.2M80.2 887.75H84.2M80.2 879.56H84.2M80.2 871.37H84.2M80.2 863.19H84.2M78.2 855H84.2M84.2 1101.4V1107.4M94.61 1101.4V1105.9M105.02 1101.4V1105.9M115.42 1101.4V1105.9M125.83 1101.4V1105.9M136.24 1101.4V1105.9M146.65 1101.4V1107.4M157.06 1101.4V1105.9M167.47 1101.4V1105.9M177.88 1101.4V1105.9M188.28 1101.4V1105.9M198.69 1101.4V1105.9M209.1 1101.4V1107.4M219.51 1101.4V1105.9M229.92 1101.4V1105.9M240.32 1101.4V1105.9M250.73 1101.4V1105.9M261.14 1101.4V1105.9M271.55 1101.4V1107.4M281.96 1101.4V1105.9M292.37 1101.4V1105.9M302.77 1101.4V1105.9M313.18 1101.4V1105.9M323.59 1101.4V1105.9M334 1101.4V1107.4M344.41 1101.4V1105.9M354.82 1101.4V1105.9M365.22 1101.4V1105.9M375.63 1101.4V1105.9M386.04 1101.4V1105.9M396.45 1101.4V1107.4M406.86 1101.4V1105.9M417.27 1101.4V1105.9M427.67 1101.4V1105.9M438.08 1101.4V1105.9M448.49 1101.4V1105.9M458.9 1101.4V1107.4M469.31 1101.4V1105.9M479.72 1101.4V1105.9M490.12 1101.4V1105.9M500.53 1101.4V1105.9M510.94 1101.4V1105.9M521.35 1101.4V1107.4M531.76 1101.4V1105.9M542.17 1101.4V1105.9M552.58 1101.4V1105.9M562.98 1101.4V1105.9M573.39 1101.4V1105.9M583.8 1101.4V1107.4" stroke="#000" stroke-width="1.3" fill="none"/>
<text x="68" y="1106.9" font-size="19.5" text-anchor="end" font-weight="normal" >0</text>
<text x="68" y="1065.97" font-size="19.5" text-anchor="end" font-weight="normal" >10</text>
<text x="68" y="1025.03" font-size="19.5" text-anchor="end" font-weight="normal" >20</text>
<text x="68" y="984.1" font-size="19.5" text-anchor="end" font-weight="normal" >30</text>
<text x="68" y="943.17" font-size="19.5" text-anchor="end" font-weight="normal" >40</text>
<text x="68" y="902.23" font-size="19.5" text-anchor="end" font-weight="normal" >50</text>
<text x="68" y="861.3" font-size="19.5" text-anchor="end" font-weight="normal" >60</text>
<text x="84.2" y="1129.7" font-size="19.5" text-anchor="middle" font-weight="normal" >0</text>
<text x="146.65" y="1129.7" font-size="19.5" text-anchor="middle" font-weight="normal" >6</text>
<text x="209.1" y="1129.7" font-size="19.5" text-anchor="middle" font-weight="normal" >12</text>
<text x="271.55" y="1129.7" font-size="19.5" text-anchor="middle" font-weight="normal" >18</text>
<text x="334" y="1129.7" font-size="19.5" text-anchor="middle" font-weight="normal" >24</text>
<text x="396.45" y="1129.7" font-size="19.5" text-anchor="middle" font-weight="normal" >30</text>
<text x="458.9" y="1129.7" font-size="19.5" text-anchor="middle" font-weight="normal" >36</text>
<text x="521.35" y="1129.7" font-size="19.5" text-anchor="middle" font-weight="normal" >42</text>
<text x="583.8" y="1129.7" font-size="19.5" text-anchor="middle" font-weight="normal" >48</text>
<text x="340" y="1165.4" font-size="23" text-anchor="middle" font-weight="normal" >Time (h)</text>
<text transform="translate(24.9 976.6) rotate(-90)" font-size="23" text-anchor="middle">Glutamic acid (g/L)</text>
<text x="46.6" y="823.7" font-size="28" text-anchor="start" font-weight="bold" >c</text>
<text x="92.8" y="823.6" font-size="19.5" text-anchor="start" font-weight="bold" >Glutamic acid accumulation</text>
<path d="M84.2 1099.78L125.83 1099.37L167.47 1100.6L209.1 1098.55L250.73 1078.09L334 994.17L375.63 972.89L417.27 947.92L458.9 931.14L500.53 917.63L583.8 904.53" fill="none" stroke="#000" stroke-width="1.5" stroke-linejoin="round"/><rect x="76.12" y="1091.71" width="16.15" height="16.15" fill="none" stroke="#10108c" stroke-width="1.45"/><rect x="117.76" y="1091.3" width="16.15" height="16.15" fill="none" stroke="#10108c" stroke-width="1.45"/><rect x="159.39" y="1092.52" width="16.15" height="16.15" fill="none" stroke="#10108c" stroke-width="1.45"/><rect x="201.02" y="1090.48" width="16.15" height="16.15" fill="none" stroke="#10108c" stroke-width="1.45"/><rect x="242.66" y="1070.01" width="16.15" height="16.15" fill="none" stroke="#10108c" stroke-width="1.45"/><rect x="325.93" y="986.1" width="16.15" height="16.15" fill="none" stroke="#10108c" stroke-width="1.45"/><rect x="367.56" y="964.81" width="16.15" height="16.15" fill="none" stroke="#10108c" stroke-width="1.45"/><rect x="409.19" y="939.84" width="16.15" height="16.15" fill="none" stroke="#10108c" stroke-width="1.45"/><rect x="450.82" y="923.06" width="16.15" height="16.15" fill="none" stroke="#10108c" stroke-width="1.45"/><rect x="492.46" y="909.55" width="16.15" height="16.15" fill="none" stroke="#10108c" stroke-width="1.45"/><rect x="575.73" y="896.45" width="16.15" height="16.15" fill="none" stroke="#10108c" stroke-width="1.45"/><path d="M250.73 1076.04V1080.13M247.43 1076.04H254.03M247.43 1080.13H254.03" stroke="#111" stroke-width="1.1" fill="none"/><path d="M334 990.08V998.27M330.7 990.08H337.3M330.7 998.27H337.3" stroke="#111" stroke-width="1.1" fill="none"/><path d="M375.63 966.75V979.03M372.33 966.75H378.93M372.33 979.03H378.93" stroke="#111" stroke-width="1.1" fill="none"/><path d="M417.27 939.73V956.11M413.97 939.73H420.57M413.97 956.11H420.57" stroke="#111" stroke-width="1.1" fill="none"/><path d="M458.9 925V937.28M455.6 925H462.2M455.6 937.28H462.2" stroke="#111" stroke-width="1.1" fill="none"/><path d="M500.53 912.31V922.95M497.23 912.31H503.83M497.23 922.95H503.83" stroke="#111" stroke-width="1.1" fill="none"/><path d="M583.8 896.34V912.72M580.5 896.34H587.1M580.5 912.72H587.1" stroke="#111" stroke-width="1.1" fill="none"/>
<rect x="76.08" y="1090.84" width="16.25" height="16.25" fill="#5f5feb" stroke="#0a0a30" stroke-width="1.45"/><rect x="117.71" y="1090.43" width="16.25" height="16.25" fill="#5f5feb" stroke="#0a0a30" stroke-width="1.45"/><rect x="159.34" y="1078.97" width="16.25" height="16.25" fill="#5f5feb" stroke="#0a0a30" stroke-width="1.45"/><rect x="200.97" y="1072.83" width="16.25" height="16.25" fill="#5f5feb" stroke="#0a0a30" stroke-width="1.45"/><rect x="242.61" y="1068.73" width="16.25" height="16.25" fill="#5f5feb" stroke="#0a0a30" stroke-width="1.45"/><rect x="325.88" y="1058.5" width="16.25" height="16.25" fill="#5f5feb" stroke="#0a0a30" stroke-width="1.45"/><rect x="367.51" y="1055.23" width="16.25" height="16.25" fill="#5f5feb" stroke="#0a0a30" stroke-width="1.45"/><rect x="409.14" y="1051.95" width="16.25" height="16.25" fill="#5f5feb" stroke="#0a0a30" stroke-width="1.45"/><rect x="450.77" y="1052.36" width="16.25" height="16.25" fill="#5f5feb" stroke="#0a0a30" stroke-width="1.45"/><rect x="492.41" y="1053.59" width="16.25" height="16.25" fill="#5f5feb" stroke="#0a0a30" stroke-width="1.45"/><rect x="575.67" y="1053.18" width="16.25" height="16.25" fill="#5f5feb" stroke="#0a0a30" stroke-width="1.45"/><path d="M167.47 1085.05V1089.14M164.17 1085.05H170.77M164.17 1089.14H170.77" stroke="#0a0a8c" stroke-width="1.1" fill="none"/><path d="M209.1 1078.91V1083M205.8 1078.91H212.4M205.8 1083H212.4" stroke="#0a0a8c" stroke-width="1.1" fill="none"/><path d="M250.73 1074.81V1078.91M247.43 1074.81H254.03M247.43 1078.91H254.03" stroke="#0a0a8c" stroke-width="1.1" fill="none"/><path d="M334 1063.35V1069.9M330.7 1063.35H337.3M330.7 1069.9H337.3" stroke="#0a0a8c" stroke-width="1.1" fill="none"/><path d="M375.63 1060.08V1066.63M372.33 1060.08H378.93M372.33 1066.63H378.93" stroke="#0a0a8c" stroke-width="1.1" fill="none"/><path d="M417.27 1055.98V1064.17M413.97 1055.98H420.57M413.97 1064.17H420.57" stroke="#0a0a8c" stroke-width="1.1" fill="none"/><path d="M458.9 1056.39V1064.58M455.6 1056.39H462.2M455.6 1064.58H462.2" stroke="#0a0a8c" stroke-width="1.1" fill="none"/><path d="M500.53 1057.62V1065.81M497.23 1057.62H503.83M497.23 1065.81H503.83" stroke="#0a0a8c" stroke-width="1.1" fill="none"/><path d="M583.8 1058.03V1064.58M580.5 1058.03H587.1M580.5 1064.58H587.1" stroke="#0a0a8c" stroke-width="1.1" fill="none"/><path d="M84.2 1098.96L125.83 1098.55L167.47 1087.09L209.1 1080.95L250.73 1076.86L334 1066.63L375.63 1063.35L417.27 1060.08L458.9 1060.49L500.53 1061.71L583.8 1061.3" fill="none" stroke="#0a0ab0" stroke-width="1.5" stroke-linejoin="round"/>
<path d="M84.2 1099.37L125.83 1098.96L167.47 1086.27L209.1 1068.67L250.73 1052.3L334 985.17L375.63 944.23L417.27 907.39L458.9 904.12L500.53 900.85L583.8 892.66" fill="none" stroke="#000" stroke-width="1.5" stroke-linejoin="round"/><circle cx="84.2" cy="1099.37" r="7.58" fill="none" stroke="#000" stroke-width="1.45"/><circle cx="125.83" cy="1098.96" r="7.58" fill="none" stroke="#000" stroke-width="1.45"/><circle cx="167.47" cy="1086.27" r="7.58" fill="none" stroke="#000" stroke-width="1.45"/><circle cx="209.1" cy="1068.67" r="7.58" fill="none" stroke="#000" stroke-width="1.45"/><circle cx="250.73" cy="1052.3" r="7.58" fill="none" stroke="#000" stroke-width="1.45"/><circle cx="334" cy="985.17" r="7.58" fill="none" stroke="#000" stroke-width="1.45"/><circle cx="375.63" cy="944.23" r="7.58" fill="none" stroke="#000" stroke-width="1.45"/><circle cx="417.27" cy="907.39" r="7.58" fill="none" stroke="#000" stroke-width="1.45"/><circle cx="458.9" cy="904.12" r="7.58" fill="none" stroke="#000" stroke-width="1.45"/><circle cx="500.53" cy="900.85" r="7.58" fill="none" stroke="#000" stroke-width="1.45"/><circle cx="583.8" cy="892.66" r="7.58" fill="none" stroke="#000" stroke-width="1.45"/><path d="M167.47 1084.23V1088.32M164.17 1084.23H170.77M164.17 1088.32H170.77" stroke="#111" stroke-width="1.1" fill="none"/><path d="M209.1 1066.63V1070.72M205.8 1066.63H212.4M205.8 1070.72H212.4" stroke="#111" stroke-width="1.1" fill="none"/><path d="M250.73 1050.25V1054.35M247.43 1050.25H254.03M247.43 1054.35H254.03" stroke="#111" stroke-width="1.1" fill="none"/><path d="M334 981.07V989.26M330.7 981.07H337.3M330.7 989.26H337.3" stroke="#111" stroke-width="1.1" fill="none"/><path d="M375.63 940.14V948.33M372.33 940.14H378.93M372.33 948.33H378.93" stroke="#111" stroke-width="1.1" fill="none"/><path d="M417.27 899.21V915.58M413.97 899.21H420.57M413.97 915.58H420.57" stroke="#111" stroke-width="1.1" fill="none"/><path d="M458.9 900.03V908.21M455.6 900.03H462.2M455.6 908.21H462.2" stroke="#111" stroke-width="1.1" fill="none"/><path d="M500.53 896.75V904.94M497.23 896.75H503.83M497.23 904.94H503.83" stroke="#111" stroke-width="1.1" fill="none"/><path d="M583.8 888.57V896.75M580.5 888.57H587.1M580.5 896.75H587.1" stroke="#111" stroke-width="1.1" fill="none"/>
<path d="M84.2 1099.37L125.83 1098.96L167.47 1088.32L209.1 1072.77L250.73 1053.53L334 970.84L375.63 944.23L417.27 897.98L458.9 881.2L500.53 881.2L583.8 884.47" fill="none" stroke="#000" stroke-width="1.5" stroke-linejoin="round"/><path d="M84.2 1091.8L91.77 1099.37L84.2 1106.95L76.63 1099.37Z" fill="none" stroke="#000" stroke-width="1.45"/><path d="M125.83 1091.39L133.41 1098.96L125.83 1106.54L118.26 1098.96Z" fill="none" stroke="#000" stroke-width="1.45"/><path d="M167.47 1080.75L175.04 1088.32L167.47 1095.89L159.89 1088.32Z" fill="none" stroke="#000" stroke-width="1.45"/><path d="M209.1 1065.19L216.67 1072.77L209.1 1080.34L201.53 1072.77Z" fill="none" stroke="#000" stroke-width="1.45"/><path d="M250.73 1045.95L258.31 1053.53L250.73 1061.1L243.16 1053.53Z" fill="none" stroke="#000" stroke-width="1.45"/><path d="M334 963.27L341.57 970.84L334 978.42L326.43 970.84Z" fill="none" stroke="#000" stroke-width="1.45"/><path d="M375.63 936.66L383.21 944.23L375.63 951.81L368.06 944.23Z" fill="none" stroke="#000" stroke-width="1.45"/><path d="M417.27 890.41L424.84 897.98L417.27 905.55L409.69 897.98Z" fill="none" stroke="#000" stroke-width="1.45"/><path d="M458.9 873.62L466.47 881.2L458.9 888.77L451.33 881.2Z" fill="none" stroke="#000" stroke-width="1.45"/><path d="M500.53 873.62L508.11 881.2L500.53 888.77L492.96 881.2Z" fill="none" stroke="#000" stroke-width="1.45"/><path d="M583.8 876.9L591.37 884.47L583.8 892.05L576.23 884.47Z" fill="none" stroke="#000" stroke-width="1.45"/><path d="M167.47 1086.27V1090.37M164.17 1086.27H170.77M164.17 1090.37H170.77" stroke="#111" stroke-width="1.1" fill="none"/><path d="M209.1 1070.72V1074.81M205.8 1070.72H212.4M205.8 1074.81H212.4" stroke="#111" stroke-width="1.1" fill="none"/><path d="M250.73 1051.48V1055.57M247.43 1051.48H254.03M247.43 1055.57H254.03" stroke="#111" stroke-width="1.1" fill="none"/><path d="M334 966.75V974.93M330.7 966.75H337.3M330.7 974.93H337.3" stroke="#111" stroke-width="1.1" fill="none"/><path d="M375.63 940.14V948.33M372.33 940.14H378.93M372.33 948.33H378.93" stroke="#111" stroke-width="1.1" fill="none"/><path d="M417.27 893.89V902.07M413.97 893.89H420.57M413.97 902.07H420.57" stroke="#111" stroke-width="1.1" fill="none"/><path d="M458.9 877.1V885.29M455.6 877.1H462.2M455.6 885.29H462.2" stroke="#111" stroke-width="1.1" fill="none"/><path d="M500.53 877.1V885.29M497.23 877.1H503.83M497.23 885.29H503.83" stroke="#111" stroke-width="1.1" fill="none"/><path d="M583.8 880.38V888.57M580.5 880.38H587.1M580.5 888.57H587.1" stroke="#111" stroke-width="1.1" fill="none"/>
<path d="M84.2 1099.78L125.83 1099.37L167.47 1093.64L209.1 1081.77L250.73 1064.17L334 980.26L375.63 954.06L417.27 886.52L458.9 873.42L500.53 872.6L583.8 881.61" fill="none" stroke="#c81414" stroke-width="1.5" stroke-linejoin="round"/><path d="M167.47 1091.59V1095.69M164.17 1091.59H170.77M164.17 1095.69H170.77" stroke="#111" stroke-width="1.1" fill="none"/><path d="M209.1 1079.72V1083.82M205.8 1079.72H212.4M205.8 1083.82H212.4" stroke="#111" stroke-width="1.1" fill="none"/><path d="M250.73 1062.12V1066.22M247.43 1062.12H254.03M247.43 1066.22H254.03" stroke="#111" stroke-width="1.1" fill="none"/><path d="M334 976.16V984.35M330.7 976.16H337.3M330.7 984.35H337.3" stroke="#111" stroke-width="1.1" fill="none"/><path d="M375.63 949.97V958.15M372.33 949.97H378.93M372.33 958.15H378.93" stroke="#111" stroke-width="1.1" fill="none"/><path d="M417.27 882.43V890.61M413.97 882.43H420.57M413.97 890.61H420.57" stroke="#111" stroke-width="1.1" fill="none"/><path d="M458.9 869.33V877.51M455.6 869.33H462.2M455.6 877.51H462.2" stroke="#111" stroke-width="1.1" fill="none"/><path d="M500.53 868.51V876.69M497.23 868.51H503.83M497.23 876.69H503.83" stroke="#111" stroke-width="1.1" fill="none"/><path d="M583.8 877.51V885.7M580.5 877.51H587.1M580.5 885.7H587.1" stroke="#111" stroke-width="1.1" fill="none"/><path d="M84.2 1091.71L91.91 1107.86L76.49 1107.86Z" fill="#cd1419" fill-opacity="0.85" stroke="#000" stroke-width="1.45" stroke-linejoin="miter"/><path d="M125.83 1091.3L133.55 1107.45L118.12 1107.45Z" fill="#cd1419" fill-opacity="0.85" stroke="#000" stroke-width="1.45" stroke-linejoin="miter"/><path d="M167.47 1085.57L175.18 1101.72L159.75 1101.72Z" fill="#cd1419" fill-opacity="0.85" stroke="#000" stroke-width="1.45" stroke-linejoin="miter"/><path d="M209.1 1073.7L216.81 1089.85L201.39 1089.85Z" fill="#cd1419" fill-opacity="0.85" stroke="#000" stroke-width="1.45" stroke-linejoin="miter"/><path d="M250.73 1056.09L258.45 1072.24L243.02 1072.24Z" fill="#cd1419" fill-opacity="0.85" stroke="#000" stroke-width="1.45" stroke-linejoin="miter"/><path d="M334 972.18L341.71 988.33L326.29 988.33Z" fill="#cd1419" fill-opacity="0.85" stroke="#000" stroke-width="1.45" stroke-linejoin="miter"/><path d="M375.63 945.98L383.35 962.13L367.92 962.13Z" fill="#cd1419" fill-opacity="0.85" stroke="#000" stroke-width="1.45" stroke-linejoin="miter"/><path d="M417.27 878.44L424.98 894.59L409.55 894.59Z" fill="#cd1419" fill-opacity="0.85" stroke="#000" stroke-width="1.45" stroke-linejoin="miter"/><path d="M458.9 865.35L466.61 881.49L451.19 881.49Z" fill="#cd1419" fill-opacity="0.85" stroke="#000" stroke-width="1.45" stroke-linejoin="miter"/><path d="M500.53 864.53L508.25 880.68L492.82 880.68Z" fill="#cd1419" fill-opacity="0.85" stroke="#000" stroke-width="1.45" stroke-linejoin="miter"/><path d="M583.8 873.53L591.51 889.68L576.09 889.68Z" fill="#cd1419" fill-opacity="0.85" stroke="#000" stroke-width="1.45" stroke-linejoin="miter"/>
</svg>
</body></html>
